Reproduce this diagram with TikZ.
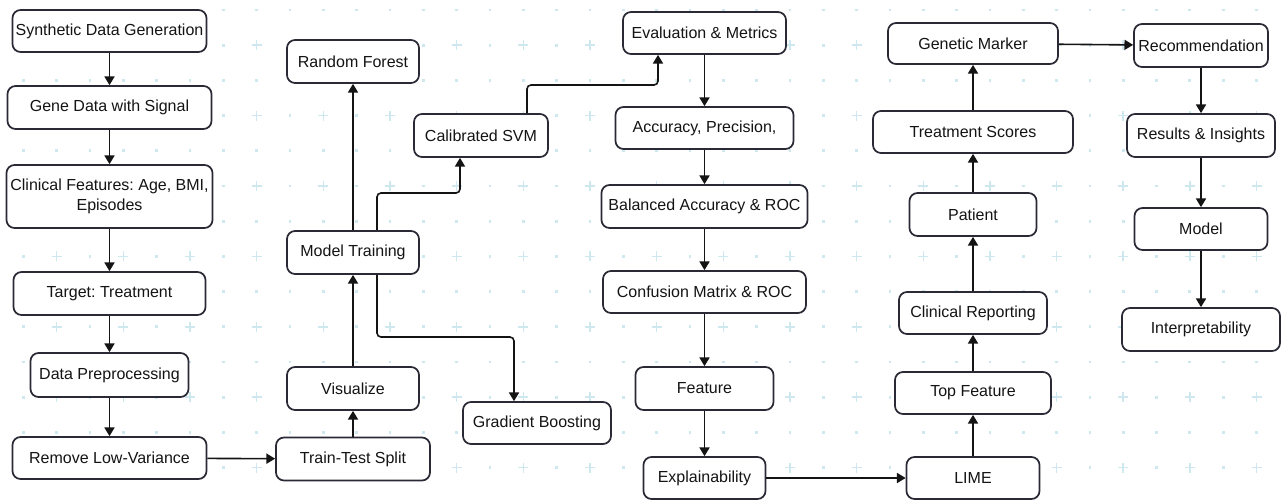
\documentclass[tikz,border=0pt]{standalone}
\usepackage{fontspec}
\setmainfont{Liberation Sans}
\usetikzlibrary{arrows.meta}
\definecolor{bord}{HTML}{2A2A36}
\definecolor{gridc}{HTML}{CFE8EF}
\definecolor{txt}{HTML}{141414}
\frenchspacing
\begin{document}
\begin{tikzpicture}[x=0.75pt, y=-0.75pt,
  box/.style={draw=bord, line width=1.3pt, rounded corners=6pt, fill=white, inner sep=0pt,
    align=center, text=txt, font=\fontsize{12}{14.5}\selectfont},
  wh/.style 2 args={minimum width={#1*0.75pt}, minimum height={#2*0.75pt}},
  arr/.style={draw=black!92, line width=1.2pt, -{Triangle[length=6.5pt,width=7.5pt]}},
  elbow/.style={arr, rounded corners=3pt},
  crossst/.style={draw=gridc, line width=1.1pt},
  dotst/.style={fill=gridc}]
\useasboundingbox (0,0) rectangle (1282,501);
\fill[white] (0,0) rectangle (1282,501);
% background grid
\foreach \j in {0,...,13}{
  \foreach \k in {0,...,37}{
    \pgfmathtruncatemacro\crossflag{mod(\j,2)*mod(\k,2)}
    \ifnum\crossflag=1
      \draw[crossst] ({23.33+33.33*\k-5},{10+35.2*\j}) -- ++(10,0);
      \draw[crossst] ({23.33+33.33*\k},{10+35.2*\j-5}) -- ++(0,10);
    \else
      \fill[dotst] ({23.33+33.33*\k-1.4},{10+35.2*\j-1.4}) rectangle ++(2.8,2.8);
    \fi
  }
}
% nodes
\node[box, wh={194}{42}] (syn) at (109.5,31) {Synthetic Data Generation};
\node[box, wh={204}{43}] (gene) at (109.5,107.5) {Gene Data with Signal};
\node[box, wh={206}{63}] (clin) at (109.5,196.5) {Clinical Features: Age, BMI,\\Episodes};
\node[box, wh={192}{43}] (targ) at (109.5,293.5) {Target: Treatment};
\node[box, wh={158}{44}] (prep) at (109.5,375) {Data Preprocessing};
\node[box, wh={194}{42}] (remv) at (109.5,458) {Remove Low-Variance};
\node[box, wh={154}{43}] (tts) at (353,459) {Train-Test Split};
\node[box, wh={132}{43}] (vis) at (353,388.5) {Visualize};
\node[box, wh={132}{43}] (mt) at (353,252.5) {Model Training};
\node[box, wh={132}{43}] (rf) at (353,61.5) {Random Forest};
\node[box, wh={134}{43}] (svm) at (481,135.5) {Calibrated SVM};
\node[box, wh={148}{42}] (gb) at (537,423) {Gradient Boosting};
\node[box, wh={163}{42}] (eval) at (704.5,33) {Evaluation \& Metrics};
\node[box, wh={178}{42}] (acc) at (704.5,128) {Accuracy, Precision,};
\node[box, wh={206}{43}] (bal) at (704.5,206.5) {Balanced Accuracy \& ROC};
\node[box, wh={203}{42}] (conf) at (704.5,292) {Confusion Matrix \& ROC};
\node[box, wh={138}{43}] (feat) at (704.5,388.5) {Feature};
\node[box, wh={122}{42}] (expl) at (704.5,478) {Explainability};
\node[box, wh={133}{42}] (lime) at (973,478) {LIME};
\node[box, wh={156}{42}] (top) at (973,393) {Top Feature};
\node[box, wh={148}{42}] (crep) at (973,313) {Clinical Reporting};
\node[box, wh={127}{43}] (pat) at (973,214.5) {Patient};
\node[box, wh={200}{42}] (ts) at (973,132) {Treatment Scores};
\node[box, wh={170}{41}] (gm) at (973,43.5) {Genetic Marker};
\node[box, wh={134}{43}] (rec) at (1201,45.5) {Recommendation};
\node[box, wh={148}{43}] (ri) at (1201,135.5) {Results \& Insights};
\node[box, wh={133}{42}] (mod) at (1201,229) {Model};
\node[box, wh={158}{43}] (interp) at (1201,329.5) {Interpretability};
% helper coordinates
\coordinate (c377) at (377,0);
\coordinate (c460) at (460,0);
\coordinate (c514) at (514,0);
\coordinate (c527) at (527,0);
\coordinate (c658) at (658,0);
% connectors
\draw[arr] (syn) -- (gene);
\draw[arr] (gene) -- (clin);
\draw[arr] (clin) -- (targ);
\draw[arr] (targ) -- (prep);
\draw[arr] (prep) -- (remv);
\draw[arr] (remv) -- (tts);
\draw[arr] (tts) -- (vis);
\draw[arr] (vis) -- (mt);
\draw[arr] (mt) -- (rf);
\draw[elbow] (mt.north -| c377) -- (377,193) -- (460,193) -- (svm.south -| c460);
\draw[elbow] (mt.south -| c377) -- (377,337) -- (514,337) -- (gb.north -| c514);
\draw[elbow] (svm.north -| c527) -- (527,85) -- (658,85) -- (eval.south -| c658);
\draw[arr] (eval) -- (acc);
\draw[arr] (acc) -- (bal);
\draw[arr] (bal) -- (conf);
\draw[arr] (conf) -- (feat);
\draw[arr] (feat) -- (expl);
\draw[arr] (expl) -- (lime);
\draw[arr] (lime) -- (top);
\draw[arr] (top) -- (crep);
\draw[arr] (crep) -- (pat);
\draw[arr] (pat) -- (ts);
\draw[arr] (ts) -- (gm);
\draw[arr] (gm) -- (rec);
\draw[arr] (rec) -- (ri);
\draw[arr] (ri) -- (mod);
\draw[arr] (mod) -- (interp);
\end{tikzpicture}
\end{document}
